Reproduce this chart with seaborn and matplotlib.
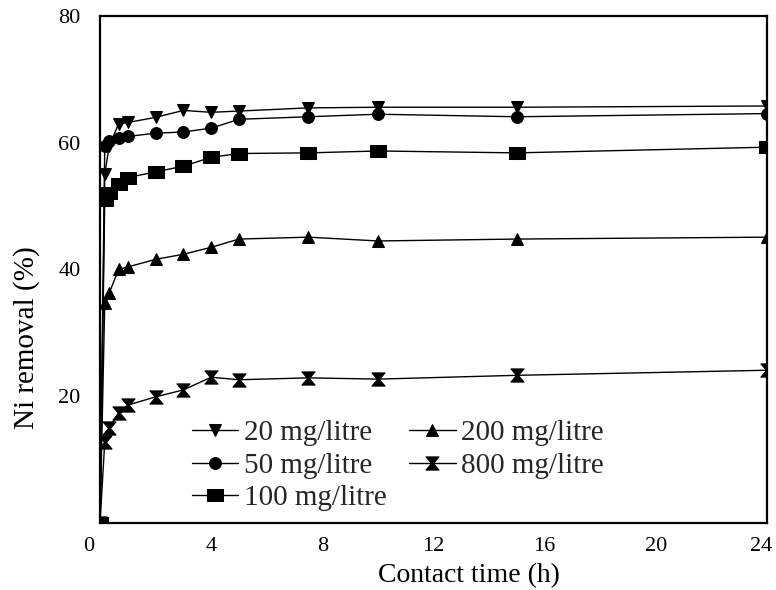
import matplotlib
matplotlib.use("Agg")
import matplotlib.pyplot as plt
import matplotlib.transforms as mtransforms
import pandas as pd
import seaborn as sns
from matplotlib.path import Path

# contact time (h) and Ni removal (%)
time_h = [0, 0.17, 0.33, 0.67, 1, 2, 3, 4, 5, 7.5, 10, 15, 24]
ni_20 = [0, 55.0, 59.5, 63.0, 63.2, 64.0, 65.1, 64.8, 65.0, 65.5, 65.6, 65.6, 65.8]
ni_50 = [0, 59.5, 60.3, 60.8, 61.0, 61.5, 61.7, 62.3, 63.7, 64.1, 64.5, 64.1, 64.6]
ni_100 = [0, 51.0, 52.0, 53.5, 54.5, 55.4, 56.3, 57.7, 58.3, 58.4, 58.7, 58.4, 59.3]
ni_200 = [0, 34.7, 36.3, 40.0, 40.4, 41.6, 42.4, 43.5, 44.8, 45.1, 44.5, 44.8, 45.1]
ni_800 = [0, 12.8, 15.0, 17.4, 18.6, 19.9, 21.0, 23.0, 22.6, 22.9, 22.7, 23.3, 24.1]

labels = ["20 mg/litre", "50 mg/litre", "100 mg/litre", "200 mg/litre", "800 mg/litre"]
series = [ni_20, ni_50, ni_100, ni_200, ni_800]

# custom marker shapes
rect = Path([(-1.3, -1), (1.3, -1), (1.3, 1), (-1.3, 1), (-1.3, -1)],
            [Path.MOVETO, Path.LINETO, Path.LINETO, Path.LINETO, Path.CLOSEPOLY])
hourglass = Path([(-1, 1), (1, 1), (0.15, 0), (1, -1), (-1, -1), (-0.15, 0), (-1, 1)],
                 [Path.MOVETO] + [Path.LINETO] * 5 + [Path.CLOSEPOLY])
markers = ["v", "o", rect, "^", hourglass]
sizes = [9, 8.5, 12, 9, 9.5]

sns.set_theme(style="white")
plt.rcParams["font.family"] = ["Liberation Serif", "DejaVu Serif"]

fig = plt.figure(figsize=(7.76, 5.9), dpi=100)
ax = fig.add_axes([0.1289, 0.1136, 0.8595, 0.8593])

for lab, vals, mk, ms in zip(labels, series, markers, sizes):
    df = pd.DataFrame({"t": time_h, "r": vals})
    sns.lineplot(data=df, x="t", y="r", ax=ax, color="black", linewidth=1.0,
                 marker=mk, markersize=ms, markeredgecolor="black",
                 markerfacecolor="black", label=lab)

ax.set_xlim(0, 24)
ax.set_ylim(0, 80)
ax.set_xticks([0, 4, 8, 12, 16, 20, 24])
ax.set_yticks([20, 40, 60, 80])
ax.tick_params(axis="both", length=0, labelsize=16, colors="black")
ax.tick_params(axis="y", pad=14)
ax.tick_params(axis="x", pad=10)
# nudge the first and last x labels like the original
xl = ax.get_xticklabels()
xl[0].set_transform(xl[0].get_transform() + mtransforms.ScaledTranslation(-8 / 72, 0, fig.dpi_scale_trans))
xl[-1].set_transform(xl[-1].get_transform() + mtransforms.ScaledTranslation(-4 / 72, 0, fig.dpi_scale_trans))

for sp in ax.spines.values():
    sp.set_color("black")
    sp.set_linewidth(1.6)

ax.set_xlabel("Contact time (h)", fontsize=20, color="black")
ax.set_ylabel("Ni removal (%)", fontsize=21, color="black")
ax.xaxis.set_label_coords(0.553, -0.08)
ax.yaxis.set_label_coords(-0.09, 0.365)

ax.legend(ncol=2, loc="upper left", bbox_to_anchor=(0.12, 0.226), frameon=False,
          fontsize=21, handlelength=1.6, handletextpad=0.2, columnspacing=0.75,
          labelspacing=0.2, borderaxespad=0)

fig.savefig("out.png", dpi=100)
